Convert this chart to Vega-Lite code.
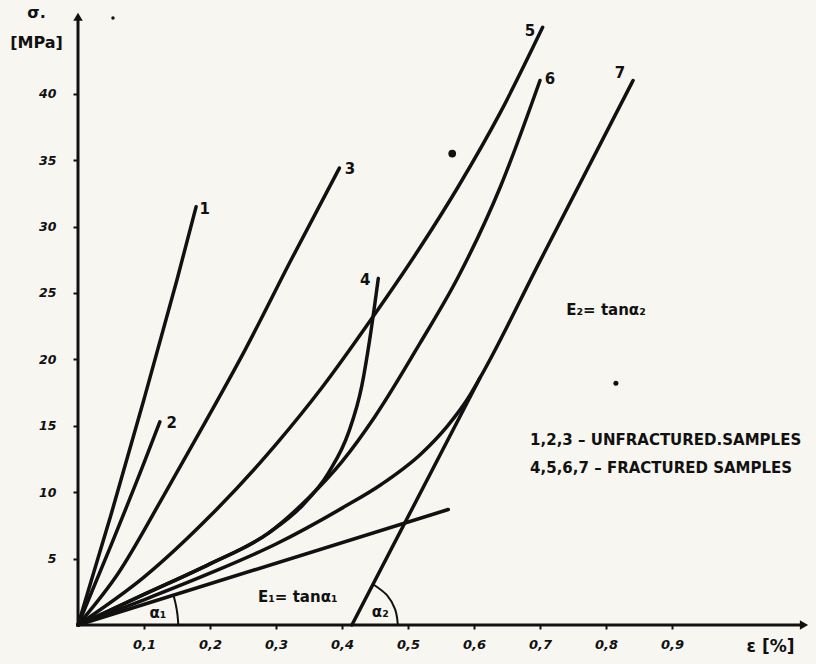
{
  "$schema": "https://vega.github.io/schema/vega-lite/v6.json",
  "width": 738,
  "height": 625,
  "autosize": {"type": "none"},
  "padding": {"left": 78, "top": 0, "right": 0, "bottom": 39},
  "background": "#f7f6f1",
  "config": {"view": {"stroke": null}, "font": "DejaVu Sans"},
  "datasets": {
    "curves": [
      {"c": "1", "o": 0, "e": 0, "s": 0}, {"c": "1", "o": 1, "e": 0.05, "s": 8.3}, {"c": "1", "o": 2, "e": 0.1, "s": 17}, {"c": "1", "o": 3, "e": 0.15, "s": 26}, {"c": "1", "o": 4, "e": 0.179, "s": 31.5},
      {"c": "2", "o": 0, "e": 0, "s": 0}, {"c": "2", "o": 1, "e": 0.05, "s": 6}, {"c": "2", "o": 2, "e": 0.1, "s": 12.2}, {"c": "2", "o": 3, "e": 0.124, "s": 15.3},
      {"c": "3", "o": 0, "e": 0, "s": 0}, {"c": "3", "o": 1, "e": 0.061, "s": 3.9}, {"c": "3", "o": 2, "e": 0.126, "s": 9.4}, {"c": "3", "o": 3, "e": 0.192, "s": 15.2}, {"c": "3", "o": 4, "e": 0.253, "s": 20.7}, {"c": "3", "o": 5, "e": 0.323, "s": 27.5}, {"c": "3", "o": 6, "e": 0.396, "s": 34.4},
      {"c": "4", "o": 0, "e": 0, "s": 0}, {"c": "4", "o": 1, "e": 0.1, "s": 2.3}, {"c": "4", "o": 2, "e": 0.2, "s": 4.6}, {"c": "4", "o": 3, "e": 0.288, "s": 6.9}, {"c": "4", "o": 4, "e": 0.34, "s": 9.0}, {"c": "4", "o": 5, "e": 0.38, "s": 11.5}, {"c": "4", "o": 6, "e": 0.41, "s": 14.5}, {"c": "4", "o": 7, "e": 0.43, "s": 18}, {"c": "4", "o": 8, "e": 0.442, "s": 21.5}, {"c": "4", "o": 9, "e": 0.455, "s": 26.1},
      {"c": "5", "o": 0, "e": 0, "s": 0}, {"c": "5", "o": 1, "e": 0.1, "s": 3.6}, {"c": "5", "o": 2, "e": 0.2, "s": 8.2}, {"c": "5", "o": 3, "e": 0.3, "s": 13.6}, {"c": "5", "o": 4, "e": 0.37, "s": 17.9}, {"c": "5", "o": 5, "e": 0.444, "s": 23}, {"c": "5", "o": 6, "e": 0.518, "s": 28.4}, {"c": "5", "o": 7, "e": 0.576, "s": 33}, {"c": "5", "o": 8, "e": 0.64, "s": 38.6}, {"c": "5", "o": 9, "e": 0.704, "s": 45},
      {"c": "6", "o": 0, "e": 0, "s": 0}, {"c": "6", "o": 1, "e": 0.1, "s": 2.3}, {"c": "6", "o": 2, "e": 0.2, "s": 4.6}, {"c": "6", "o": 3, "e": 0.288, "s": 6.9}, {"c": "6", "o": 4, "e": 0.35, "s": 9.6}, {"c": "6", "o": 5, "e": 0.4, "s": 12.3}, {"c": "6", "o": 6, "e": 0.45, "s": 15.7}, {"c": "6", "o": 7, "e": 0.518, "s": 21.2}, {"c": "6", "o": 8, "e": 0.576, "s": 26.2}, {"c": "6", "o": 9, "e": 0.64, "s": 33}, {"c": "6", "o": 10, "e": 0.7, "s": 41},
      {"c": "7", "o": 0, "e": 0, "s": 0}, {"c": "7", "o": 1, "e": 0.1, "s": 1.9}, {"c": "7", "o": 2, "e": 0.2, "s": 3.9}, {"c": "7", "o": 3, "e": 0.3, "s": 6.1}, {"c": "7", "o": 4, "e": 0.4, "s": 8.8}, {"c": "7", "o": 5, "e": 0.46, "s": 10.6}, {"c": "7", "o": 6, "e": 0.52, "s": 12.9}, {"c": "7", "o": 7, "e": 0.56, "s": 15.0}, {"c": "7", "o": 8, "e": 0.59, "s": 17.0}, {"c": "7", "o": 9, "e": 0.609, "s": 18.6}, {"c": "7", "o": 10, "e": 0.7, "s": 27.4}, {"c": "7", "o": 11, "e": 0.841, "s": 41},
      {"c": "E1", "o": 0, "e": 0, "s": 0}, {"c": "E1", "o": 1, "e": 0.561, "s": 8.7},
      {"c": "E2", "o": 0, "e": 0.415, "s": 0}, {"c": "E2", "o": 1, "e": 0.609, "s": 18.6}
    ],
    "arcs": [
      {"c": "a1", "o": 0, "e": 0.152, "s": 0}, {"c": "a1", "o": 1, "e": 0.1507, "s": 0.79}, {"c": "a1", "o": 2, "e": 0.148, "s": 1.57}, {"c": "a1", "o": 3, "e": 0.1447, "s": 2.24},
      {"c": "a2", "o": 0, "e": 0.4847, "s": 0}, {"c": "a2", "o": 1, "e": 0.4805, "s": 1.18}, {"c": "a2", "o": 2, "e": 0.4684, "s": 2.23}, {"c": "a2", "o": 3, "e": 0.4471, "s": 3.07}
    ],
    "axes": [
      {"c": "y", "o": 0, "e": 0, "s": 0}, {"c": "y", "o": 1, "e": 0, "s": 45.8},
      {"c": "x", "o": 0, "e": 0, "s": 0}, {"c": "x", "o": 1, "e": 1.1, "s": 0}
    ],
    "labels": [
      {"t": "1", "e": 0.192, "s": 31.3}, {"t": "2", "e": 0.142, "s": 15.2}, {"t": "3", "e": 0.412, "s": 34.3},
      {"t": "4", "e": 0.435, "s": 26.0}, {"t": "5", "e": 0.685, "s": 44.7}, {"t": "6", "e": 0.715, "s": 41.1}, {"t": "7", "e": 0.821, "s": 41.6}
    ],
    "notes": [
      {"t": "E₁= tanα₁", "e": 0.333, "s": 2.1},
      {"t": "E₂= tanα₂", "e": 0.8, "s": 23.7}
    ],
    "angles": [
      {"t": "α₁", "e": 0.121, "s": 0.9}, {"t": "α₂", "e": 0.458, "s": 1.0}
    ],
    "legend": [
      {"t": "1,2,3 – UNFRACTURED.SAMPLES", "e": 0.685, "s": 13.9},
      {"t": "4,5,6,7 – FRACTURED  SAMPLES", "e": 0.685, "s": 11.8}
    ],
    "specks": [
      {"e": 0.567, "s": 35.5, "k": 60}, {"e": 0.815, "s": 18.2, "k": 25}, {"e": 0.053, "s": 45.7, "k": 12}
    ],
    "arrows": [
      {"d": "up", "e": 0, "s": 45.8}, {"d": "right", "e": 1.1, "s": 0}
    ]
  },
  "encoding": {
    "x": {"field": "e", "type": "quantitative", "scale": {"domain": [0, 1.1182], "nice": false, "zero": false},
      "axis": {"values": [0.1, 0.2, 0.3, 0.4, 0.5, 0.6, 0.7, 0.8, 0.9], "labelExpr": "replace(format(datum.value, '.1f'), '.', ',')",
        "domain": false, "grid": false, "tickColor": "#111", "tickWidth": 2, "tickSize": 4, "labelPadding": 9,
        "labelFont": "DejaVu Sans", "labelFontSize": 13, "labelFontWeight": "bold", "labelFontStyle": "italic", "labelColor": "#111",
        "title": "ε [%]", "titleFont": "DejaVu Sans", "titleFontSize": 17, "titleFontWeight": "bold", "titleColor": "#111",
        "titleX": 692, "titleY": 13, "titleBaseline": "top", "titleAlign": "center"}},
    "y": {"field": "s", "type": "quantitative", "scale": {"domain": [0, 47.06], "nice": false, "zero": false},
      "axis": {"values": [5, 10, 15, 20, 25, 30, 35, 40], "domain": false, "grid": false, "tickColor": "#111", "tickWidth": 2, "tickSize": 5, "labelPadding": 17,
        "labelFont": "DejaVu Sans", "labelFontSize": 12.5, "labelFontWeight": "bold", "labelFontStyle": "italic", "labelColor": "#111",
        "title": ["σ.", "[MPa]"], "titleAngle": 0, "titleFont": "DejaVu Sans", "titleFontSize": 16, "titleFontWeight": "bold", "titleColor": "#111",
        "titleX": -42, "titleY": 4, "titleAlign": "center", "titleBaseline": "top", "titleLineHeight": 30}}
  },
  "layer": [
    {"data": {"name": "axes"}, "mark": {"type": "line", "color": "#111", "strokeWidth": 3}, "encoding": {"detail": {"field": "c"}, "order": {"field": "o"}}},
    {"data": {"name": "arrows"}, "transform": [{"filter": "datum.d == 'up'"}], "mark": {"type": "point", "shape": "triangle-up", "filled": true, "color": "#111", "size": 90, "opacity": 1}},
    {"data": {"name": "arrows"}, "transform": [{"filter": "datum.d == 'right'"}], "mark": {"type": "point", "shape": "triangle-right", "filled": true, "color": "#111", "size": 90, "opacity": 1}},
    {"data": {"name": "curves"}, "mark": {"type": "line", "color": "#111", "strokeWidth": 3.5, "interpolate": "monotone", "strokeCap": "round"}, "encoding": {"detail": {"field": "c"}, "order": {"field": "o"}}},
    {"data": {"name": "arcs"}, "mark": {"type": "line", "color": "#111", "strokeWidth": 2, "interpolate": "cardinal"}, "encoding": {"detail": {"field": "c"}, "order": {"field": "o"}}},
    {"data": {"name": "specks"}, "mark": {"type": "point", "filled": true, "color": "#111", "opacity": 1}, "encoding": {"size": {"field": "k", "type": "quantitative", "scale": null}}},
    {"data": {"name": "labels"}, "mark": {"type": "text", "font": "DejaVu Sans", "fontSize": 15, "fontWeight": "bold", "color": "#111", "align": "center", "baseline": "middle"}, "encoding": {"text": {"field": "t"}}},
    {"data": {"name": "notes"}, "mark": {"type": "text", "font": "DejaVu Sans", "fontSize": 15, "fontWeight": "bold", "color": "#111", "align": "center", "baseline": "middle"}, "encoding": {"text": {"field": "t"}}},
    {"data": {"name": "angles"}, "mark": {"type": "text", "font": "DejaVu Sans", "fontSize": 15, "fontWeight": "bold", "color": "#111", "align": "center", "baseline": "middle"}, "encoding": {"text": {"field": "t"}}},
    {"data": {"name": "legend"}, "mark": {"type": "text", "font": "DejaVu Sans", "fontSize": 15, "fontWeight": "bold", "color": "#111", "align": "left", "baseline": "middle"}, "encoding": {"text": {"field": "t"}}}
  ]
}
